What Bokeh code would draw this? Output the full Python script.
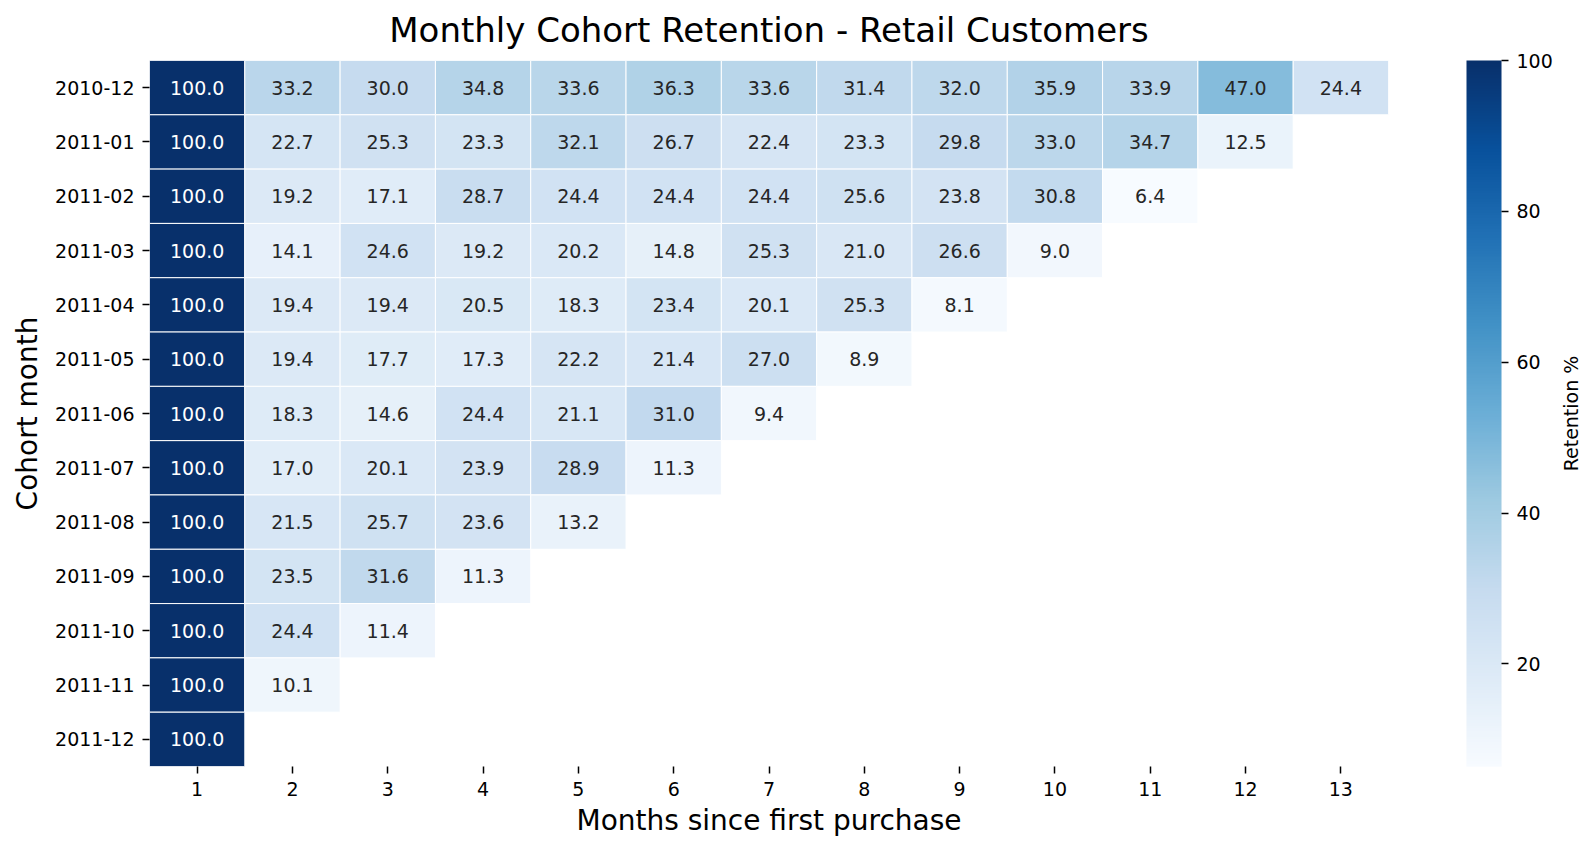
from bokeh.plotting import figure
from bokeh.layouts import row
from bokeh.models import ColumnDataSource, LinearColorMapper, ColorBar, FixedTicker
from bokeh.palettes import Blues256
from bokeh.transform import transform
from bokeh.embed import file_html
from bokeh.resources import INLINE

FONT = "DejaVu Sans"

cohorts = ["2010-12", "2011-01", "2011-02", "2011-03", "2011-04", "2011-05", "2011-06",
           "2011-07", "2011-08", "2011-09", "2011-10", "2011-11", "2011-12"]
periods = [str(i) for i in range(1, 14)]

# retention % by months since first purchase, one list per cohort
ret_2010_12 = [100.0, 33.2, 30.0, 34.8, 33.6, 36.3, 33.6, 31.4, 32.0, 35.9, 33.9, 47.0, 24.4]
ret_2011_01 = [100.0, 22.7, 25.3, 23.3, 32.1, 26.7, 22.4, 23.3, 29.8, 33.0, 34.7, 12.5]
ret_2011_02 = [100.0, 19.2, 17.1, 28.7, 24.4, 24.4, 24.4, 25.6, 23.8, 30.8, 6.4]
ret_2011_03 = [100.0, 14.1, 24.6, 19.2, 20.2, 14.8, 25.3, 21.0, 26.6, 9.0]
ret_2011_04 = [100.0, 19.4, 19.4, 20.5, 18.3, 23.4, 20.1, 25.3, 8.1]
ret_2011_05 = [100.0, 19.4, 17.7, 17.3, 22.2, 21.4, 27.0, 8.9]
ret_2011_06 = [100.0, 18.3, 14.6, 24.4, 21.1, 31.0, 9.4]
ret_2011_07 = [100.0, 17.0, 20.1, 23.9, 28.9, 11.3]
ret_2011_08 = [100.0, 21.5, 25.7, 23.6, 13.2]
ret_2011_09 = [100.0, 23.5, 31.6, 11.3]
ret_2011_10 = [100.0, 24.4, 11.4]
ret_2011_11 = [100.0, 10.1]
ret_2011_12 = [100.0]

rows = [ret_2010_12, ret_2011_01, ret_2011_02, ret_2011_03, ret_2011_04, ret_2011_05,
        ret_2011_06, ret_2011_07, ret_2011_08, ret_2011_09, ret_2011_10, ret_2011_11,
        ret_2011_12]

cbar_ticks = [20, 40, 60, 80, 100]


def rel_lum(hexc):
    r, g, b = [int(hexc[i:i + 2], 16) / 255 for i in (1, 3, 5)]

    def f(c):
        return c / 12.92 if c <= 0.03928 else ((c + 0.055) / 1.055) ** 2.4
    return 0.2126 * f(r) + 0.7152 * f(g) + 0.0722 * f(b)


palette = list(Blues256)
if rel_lum(palette[0]) < rel_lum(palette[-1]):
    palette = palette[::-1]  # light -> dark

all_vals = [v for r in rows for v in r]
lo, hi = min(all_vals), max(all_vals)
mapper = LinearColorMapper(palette=palette, low=lo, high=hi)

xs, ys, vals, labels, tcolors = [], [], [], [], []
for cohort, vals_row in zip(cohorts, rows):
    for period, v in zip(periods, vals_row):
        idx = min(int((v - lo) / (hi - lo) * len(palette)), len(palette) - 1)
        xs.append(period)
        ys.append(cohort)
        vals.append(v)
        labels.append(f"{v:.1f}")
        tcolors.append("#262626" if rel_lum(palette[idx]) > 0.408 else "white")

src = ColumnDataSource(dict(period=xs, cohort=ys, value=vals, label=labels, tcolor=tcolors))

TOP, BOTTOM = 60, 83

p = figure(width=1555, height=849, x_range=periods, y_range=list(reversed(cohorts)),
           output_backend="svg", toolbar_location=None,
           min_border_left=149, min_border_right=166, min_border_top=TOP,
           min_border_bottom=BOTTOM,
           title="Monthly Cohort Retention - Retail Customers")

p.rect(x="period", y="cohort", width=1, height=1, source=src,
       fill_color=transform("value", mapper), line_color="white", line_width=1)
p.text(x="period", y="cohort", text="label", source=src, text_color="tcolor",
       text_align="center", text_baseline="middle", text_font_size="19px",
       text_font={"value": FONT})

p.title.align = "center"
p.title.vertical_align = "top"
p.title.text_font = FONT
p.title.text_font_size = "34px"
p.title.text_font_style = "normal"
p.title.text_color = "black"
p.title.standoff = 18

p.grid.visible = False
p.outline_line_color = None
for ax in (p.xaxis[0], p.yaxis[0]):
    ax.axis_line_color = None
    ax.major_tick_in = 0
    ax.major_tick_out = 7
    ax.major_tick_line_color = "black"
    ax.major_tick_line_width = 1.5
    ax.minor_tick_line_color = None
    ax.major_label_text_font = FONT
    ax.major_label_text_font_size = "19px"
    ax.major_label_text_color = "black"
    ax.major_label_standoff = 8
    ax.axis_label_text_font = FONT
    ax.axis_label_text_font_size = "28px"
    ax.axis_label_text_font_style = "normal"
    ax.axis_label_text_color = "black"
    ax.axis_label_standoff = 8

p.xaxis.axis_label_standoff = 5
p.xaxis.axis_label = "Months since first purchase"
p.yaxis.axis_label = "Cohort month"

color_bar = ColorBar(color_mapper=mapper, ticker=FixedTicker(ticks=cbar_ticks),
                     width=35, height=706, padding=0, margin=0, location=(78, 0),
                     major_tick_in=0, major_tick_out=7, major_tick_line_color="black",
                     major_tick_line_width=1.5, minor_tick_line_color=None,
                     major_label_text_font=FONT, major_label_text_font_size="19px",
                     major_label_text_color="black", label_standoff=8,
                     bar_line_color=None, border_line_color=None,
                     background_fill_color=None)
p.add_layout(color_bar, "right")

# narrow strip holding the colour bar caption as a left-axis label
cap = figure(width=40, height=849, x_range=(0, 1), y_range=(0, 1),
             output_backend="svg", toolbar_location=None,
             min_border_left=38, min_border_right=0, min_border_top=TOP,
             min_border_bottom=BOTTOM)
cap.outline_line_color = None
cap.grid.visible = False
cap.xaxis.visible = False
cap.yaxis.ticker = FixedTicker(ticks=[])
cap.yaxis.axis_line_color = None
cap.yaxis.major_tick_in = 0
cap.yaxis.major_tick_out = 0
cap.yaxis.minor_tick_line_color = None
cap.yaxis.major_label_standoff = 0
cap.yaxis.axis_label = "Retention %"
cap.yaxis.axis_label_text_font = FONT
cap.yaxis.axis_label_text_font_size = "19px"
cap.yaxis.axis_label_text_font_style = "normal"
cap.yaxis.axis_label_text_color = "black"
cap.yaxis.axis_label_standoff = 12

layout = row(p, cap, spacing=0)

with open("out.html", "w") as fh:
    fh.write(file_html(layout, INLINE))
